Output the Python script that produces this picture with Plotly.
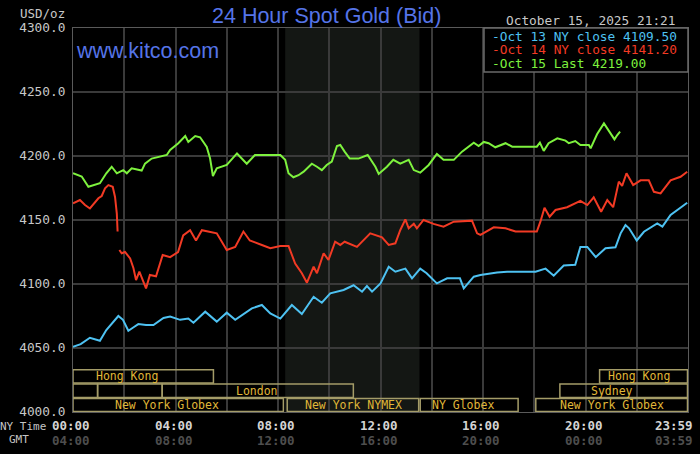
import plotly.graph_objects as go

# hours after midnight NY time, and bid prices (USD/oz)
oct13_hours = [0, 0.3, 0.66, 1.05, 1.3, 1.55, 1.77, 1.95, 2.16, 2.35, 2.55, 2.85, 3.14, 3.53, 3.79,
               4.18, 4.5, 4.7, 5.16, 5.61, 6.0, 6.33, 6.98, 7.37, 7.7, 8.09, 8.54, 8.93, 9.39, 9.71,
               10.04, 10.56, 10.95, 11.28, 11.47, 11.67, 12.0, 12.32, 12.58, 12.97, 13.23, 13.55, 13.8,
               14.2, 14.6, 15.1, 15.25, 15.64, 15.9, 16.55, 16.94, 18.05, 18.44, 18.76, 19.15, 19.6,
               19.8, 20.07, 20.4, 20.78, 21.17, 21.37, 21.56, 21.7, 22.0, 22.28, 22.8, 23.0, 23.32, 23.97]
oct13_price = [4051, 4053, 4058, 4055.7, 4064, 4070, 4075, 4072, 4063.5, 4066, 4068.7, 4068, 4068, 4073.4, 4074.5,
               4072, 4073, 4069.8, 4078.4, 4070.6, 4077.6, 4072, 4081, 4083.6, 4077, 4073, 4083.6, 4076.6, 4090, 4085.4,
               4092.7, 4095.3, 4099, 4094, 4098.4, 4094, 4100.5, 4113.5, 4109.6, 4112, 4104.4, 4112, 4108.4,
               4100.5, 4104.4, 4104.4, 4096.6, 4105.7, 4107, 4109, 4109.6, 4109.6, 4112, 4106.5, 4114.4, 4115,
               4129, 4129, 4121, 4128, 4128.7, 4139.6, 4146, 4143.5, 4134, 4140.8, 4147.4, 4144.8, 4154, 4163.5]

oct14_hours = [0, 0.27, 0.47, 0.66, 0.99, 1.12, 1.25, 1.38, 1.55, 1.64, 1.71, 1.74, 1.775, 1.81, 1.9, 2.03,
               2.23, 2.36, 2.46, 2.59, 2.85, 3.0, 3.24, 3.5, 3.79, 4.1, 4.3, 4.57, 4.8, 5.03, 5.61, 6.0,
               6.33, 6.65, 6.9, 7.37, 7.7, 8.09, 8.41, 8.67, 8.93, 9.13, 9.39, 9.52, 9.78, 9.97, 10.23,
               10.43, 10.6, 11.08, 11.6, 12.06, 12.32, 12.58, 12.77, 12.97, 13.1, 13.3, 13.42, 13.68,
               14.07, 14.46, 14.86, 15.57, 15.77, 15.9, 16.42, 16.88, 17.27, 18.1, 18.24, 18.4, 18.6,
               18.83, 19.28, 19.8, 20.07, 20.32, 20.61, 20.85, 21.08, 21.3, 21.43, 21.6, 21.86, 22.15,
               22.47, 22.67, 22.93, 23.32, 23.71, 23.97]
oct14_price = [4163, 4165.6, 4161.7, 4159, 4167, 4168.75, 4174.8, 4177.3, 4176, 4168, 4155, 4141, None, 4126.6, 4124, 4125,
               4120, 4112.3, 4103, 4109.6, 4096.6, 4107, 4106, 4122.7, 4121, 4125, 4138, 4142, 4134, 4142, 4139.6, 4126.6,
               4129, 4141, 4134, 4130.5, 4128, 4129.7, 4129.7, 4116, 4108.4, 4101, 4113.5, 4108.4, 4124, 4118.75, 4133,
               4130.5, 4133, 4129, 4139.6, 4136.5, 4130.5, 4131.8, 4142, 4150.5, 4143.5, 4147, 4143.5, 4150,
               4147, 4144.8, 4148.7, 4149.5, 4139.6, 4138.3, 4144.3, 4143.5, 4141, 4141, 4148.7, 4159.6, 4152.6,
               4157.8, 4160, 4165, 4161.7, 4167.7, 4156.5, 4165.6, 4160, 4180, 4176.6, 4186.5, 4177.3, 4181,
               4181, 4172, 4170.8, 4181, 4183.8, 4187.7]

oct15_hours = [0, 0.34, 0.6, 1.05, 1.3, 1.51, 1.71, 1.96, 2.1, 2.29, 2.68, 2.81, 3.07, 3.66, 3.79, 4.11,
               4.38, 4.5, 4.77, 4.96, 5.22, 5.35, 5.46, 5.61, 6.0, 6.4, 6.78, 7.1, 7.7, 8.09, 8.28, 8.41,
               8.6, 8.8, 9.0, 9.32, 9.52, 9.71, 9.9, 10.1, 10.3, 10.43, 10.6, 10.8, 11.14, 11.5, 11.8,
               11.93, 12.25, 12.5, 12.77, 13.1, 13.3, 13.55, 13.88, 14.2, 14.46, 14.86, 15.18, 15.64,
               15.83, 16.03, 16.22, 16.48, 16.88, 17.14, 18.1, 18.22, 18.37, 18.56, 18.9, 19.22, 19.35,
               19.6, 19.8, 20.13, 20.2, 20.45, 20.72, 20.9, 21.13, 21.24, 21.35]
oct15_price = [4186.5, 4184, 4176, 4178.7, 4186.5, 4191.6, 4186.5, 4189, 4186.5, 4190.4, 4188.6, 4194, 4198, 4200.8, 4204.7, 4210,
               4215.6, 4211, 4215.6, 4214.6, 4207, 4198, 4184.4, 4190.4, 4193, 4202, 4194, 4200.8, 4200.8, 4200.8, 4197, 4186.5,
               4183.4, 4185, 4187.8, 4194, 4191.6, 4189, 4193, 4195.6, 4207.8, 4208.6, 4203.4, 4198, 4198, 4200.8, 4191.6,
               4186, 4191.6, 4197, 4194, 4197, 4189, 4187, 4193, 4201.6, 4197, 4197, 4203.4, 4210.4,
               4207.8, 4211, 4210, 4206.8, 4210, 4207.3, 4207.3, 4210.4, 4204, 4210, 4213.8, 4212, 4210,
               4211.7, 4208.6, 4208.6, 4206, 4217, 4225.5, 4220, 4213, 4216.4, 4219]

legend_labels = ["-Oct 13 NY close 4109.50", "-Oct 14 NY close 4141.20", "-Oct 15 Last 4219.00"]
y_ticks = [4000, 4050, 4100, 4150, 4200, 4250, 4300]
ny_ticks = ["00:00", "04:00", "08:00", "12:00", "16:00", "20:00", "23:59"]
gmt_ticks = ["04:00", "08:00", "12:00", "16:00", "20:00", "00:00", "03:59"]
tick_hours = [0, 4, 8, 12, 16, 20, 24]

# market sessions: name, start hour, end hour, row (1 = top), label hour
session_names = ["Hong Kong", "", "", "London", "New York Globex", "New York NYMEX", "NY Globex",
                 "New York Globex", "Sydney", "Hong Kong"]
session_start = [0, 0, 0.96, 3.48, 0, 8.36, 13.55, 18.06, 19.0, 20.55]
session_end = [5.48, 0.96, 3.48, 10.94, 8.21, 13.49, 17.37, 23.98, 23.98, 23.98]
session_row = [1, 2, 2, 2, 3, 3, 3, 3, 2, 1]
session_label_at = [2.1, 0, 0, 7.18, 3.66, 10.93, 15.23, 21.02, 21.02, 22.1]

BLUE = "#4ec2f2"
RED = "#f23a24"
GREEN = "#7ef23e"
MONO = "DejaVu Sans Mono"

L, R, T, B = 73, 12, 28, 42
W, H = 700, 454
PW, PH = W - L - R, H - T - B


def px(x):
    return (x - L) / PW


def py(y):
    return (T + PH - y) / PH


fig = go.Figure()
for hrs, vals, col in [(oct13_hours, oct13_price, BLUE), (oct14_hours, oct14_price, RED),
                       (oct15_hours, oct15_price, GREEN)]:
    fig.add_trace(go.Scatter(x=hrs, y=vals, mode="lines", line=dict(color=col, width=2),
                             connectgaps=False, hoverinfo="skip"))

shapes = []
# darker band during London / New York overlap
shapes.append(dict(type="rect", xref="x", yref="y", x0=8.28, x1=13.52, y0=4000, y1=4300,
                   fillcolor="#141714", line=dict(width=0), layer="below"))

row_y = {1: (4022.6, 4033.0), 2: (4011.4, 4021.9), 3: (4000.3, 4010.6)}
annotations = []
for name, s, e, r, lx in zip(session_names, session_start, session_end, session_row, session_label_at):
    y0, y1 = row_y[r]
    shapes.append(dict(type="rect", xref="x", yref="y", x0=s, x1=e, y0=y0, y1=y1,
                       line=dict(color="#a49c68", width=1.5), fillcolor="rgba(0,0,0,0)", layer="above"))
    if name:
        annotations.append(dict(x=lx, y=(y0 + y1) / 2, xref="x", yref="y", text=name, showarrow=False,
                                font=dict(family=MONO, size=11.5, color="#e0b838"), xanchor="center", yanchor="middle"))

# legend box
shapes.append(dict(type="rect", xref="paper", yref="paper", x0=px(484), x1=px(688), y0=py(72), y1=py(28),
                   fillcolor="#000000", line=dict(color="#6a6a6a", width=1.5), layer="above"))
for i, (lab, col) in enumerate(zip(legend_labels, [BLUE, RED, GREEN])):
    annotations.append(dict(x=px(490), y=py(36 + i * 13.8), xref="paper", yref="paper", text=lab,
                            showarrow=False, xanchor="left", yanchor="middle",
                            font=dict(family=MONO, size=12.8, color=col)))

# time axis labels
for h, ny, gmt in zip(tick_hours, ny_ticks, gmt_ticks):
    anchor = "right" if h == 24 else "center"
    shift = 7 if h == 24 else -2
    annotations.append(dict(x=h, y=py(425), xref="x", yref="paper", text="<b>" + ny + "</b>", showarrow=False,
                            xanchor=anchor, yanchor="middle", xshift=shift,
                            font=dict(family=MONO, size=12.5, color="#d4d4d4")))
    annotations.append(dict(x=h, y=py(440.5), xref="x", yref="paper", text="<b>" + gmt + "</b>", showarrow=False,
                            xanchor=anchor, yanchor="middle", xshift=shift,
                            font=dict(family=MONO, size=12.5, color="#4e4e4e")))
annotations.append(dict(x=px(48), y=py(426), xref="paper", yref="paper", text="NY Time", showarrow=False,
                        xanchor="right", yanchor="middle", font=dict(family=MONO, size=11, color="#c4c4c4")))
annotations.append(dict(x=px(31), y=py(439.5), xref="paper", yref="paper", text="GMT", showarrow=False,
                        xanchor="right", yanchor="middle", font=dict(family=MONO, size=11, color="#c4c4c4")))

# header texts
annotations.append(dict(x=px(67), y=py(13), xref="paper", yref="paper", text="USD/oz", showarrow=False,
                        xanchor="right", yanchor="middle", font=dict(family=MONO, size=12.5, color="#c8c8c8")))
annotations.append(dict(x=px(326), y=py(15.5), xref="paper", yref="paper", text="24 Hour Spot Gold (Bid)",
                        showarrow=False, xanchor="center", yanchor="middle",
                        font=dict(family="Liberation Sans", size=21.5, color="#5574e8")))
annotations.append(dict(x=px(591), y=py(20.5), xref="paper", yref="paper", text="October 15, 2025 21:21",
                        showarrow=False, xanchor="center", yanchor="middle",
                        font=dict(family=MONO, size=12.8, color="#c8c8c8")))
annotations.append(dict(x=px(74), y=py(51.5), xref="paper", yref="paper", text="www.kitco.com",
                        showarrow=False, xanchor="left", yanchor="middle",
                        font=dict(family="Liberation Sans", size=21.5, color="#5574e8")))

fig.update_layout(
    width=W, height=H,
    margin=dict(l=L, r=R, t=T, b=B),
    paper_bgcolor="#000000", plot_bgcolor="#000000",
    showlegend=False,
    shapes=shapes, annotations=annotations,
    xaxis=dict(range=[0, 24], dtick=2, tick0=0, showgrid=True, gridcolor="#3a3a3a", gridwidth=1.5,
               showticklabels=False, zeroline=False, showline=True, linecolor="#5a5a5a", mirror=True,
               fixedrange=True),
    yaxis=dict(range=[4000, 4300], tickvals=y_ticks, ticktext=["%.1f" % v for v in y_ticks],
               showgrid=True, gridcolor="#3a3a3a", gridwidth=1.5, zeroline=False, showline=True,
               linecolor="#5a5a5a", mirror=True, ticks="", ticklabelstandoff=4,
               tickfont=dict(family=MONO, size=12.8, color="#c8c8c8"), fixedrange=True),
)

# page body margin would push the chart off its 700x454 frame
fig.write_html("out.html", config={"displayModeBar": False},
               post_script="document.body.style.margin='0';document.body.style.background='#000';")
